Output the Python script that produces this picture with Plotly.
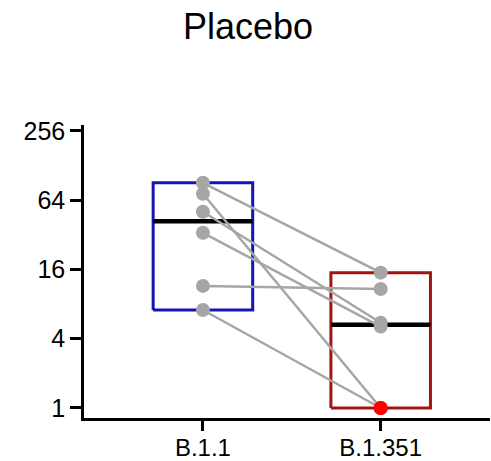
import plotly.graph_objects as go
import numpy as np

categories = ["B.1.1", "B.1.351"]
b111_values = [90.5, 72.7, 50.7, 33.3, 11.5, 7.1]
b1351_values = [15.0, 1.0, 5.5, 5.1, 10.8, 1.0]
lod = 1.0
ytick_vals = [1, 4, 16, 64, 256]
ytick_text = ["1", "4", "16", "64", "256"]
box_colors = ["#1515B5", "#A01414"]
title_text = "Placebo"

series = [b111_values, b1351_values]
xpos = [0, 1]
hw = 0.28

fig = go.Figure()

# boxes (min-max) with median
for i, vals in enumerate(series):
    lo, hi, med = min(vals), max(vals), float(np.median(vals))
    c = xpos[i]
    fig.add_trace(go.Scatter(
        x=[c - hw, c + hw, c + hw, c - hw, c - hw],
        y=[lo, lo, hi, hi, lo],
        mode="lines", line=dict(color=box_colors[i], width=3),
        hoverinfo="skip", showlegend=False, cliponaxis=False))
    fig.add_trace(go.Scatter(
        x=[c - hw, c + hw], y=[med, med],
        mode="lines", line=dict(color="black", width=4.5),
        hoverinfo="skip", showlegend=False))

# paired lines
lx, ly = [], []
for a, b in zip(b111_values, b1351_values):
    lx += [xpos[0], xpos[1], None]
    ly += [a, b, None]
fig.add_trace(go.Scatter(x=lx, y=ly, mode="lines",
                         line=dict(color="#A6A6A6", width=2.5),
                         hoverinfo="skip", showlegend=False))

# points
for i, vals in enumerate(series):
    cols = ["#FF0000" if v <= lod else "#A6A6A6" for v in vals]
    fig.add_trace(go.Scatter(
        x=[xpos[i]] * len(vals), y=vals, mode="markers",
        marker=dict(color=cols, size=14, line=dict(width=0)),
        hoverinfo="skip", showlegend=False, cliponaxis=False))

fig.update_layout(
    width=491, height=461,
    margin=dict(l=84, r=1, t=125, b=43, autoexpand=False),
    paper_bgcolor="white", plot_bgcolor="white",
    font=dict(family="Liberation Sans, Arial, sans-serif", color="black"),
    title=dict(text=title_text, xref="container", yref="container",
               x=0.505, y=1 - 26 / 461, xanchor="center", yanchor="middle",
               font=dict(size=36, color="black")),
    xaxis=dict(range=[-0.669, 1.615], tickvals=xpos, ticktext=categories,
               showgrid=False, zeroline=False, showline=True,
               linecolor="black", linewidth=2.5, ticks="outside",
               ticklen=10, tickwidth=2.5, tickcolor="black",
               tickfont=dict(size=24), automargin=False,
               ticklabelstandoff=-4),
    yaxis=dict(type="log", range=[-0.087, 2.459], tickvals=ytick_vals,
               ticktext=ytick_text, showgrid=False, zeroline=False,
               showline=True, linecolor="black", linewidth=2.5,
               ticks="outside", ticklen=11, tickwidth=2.5,
               tickcolor="black", tickfont=dict(size=25), automargin=False),
)

fig.write_html("out.html", config={"displayModeBar": False},
               post_script="document.body.style.margin='0';document.body.style.overflow='hidden';")
